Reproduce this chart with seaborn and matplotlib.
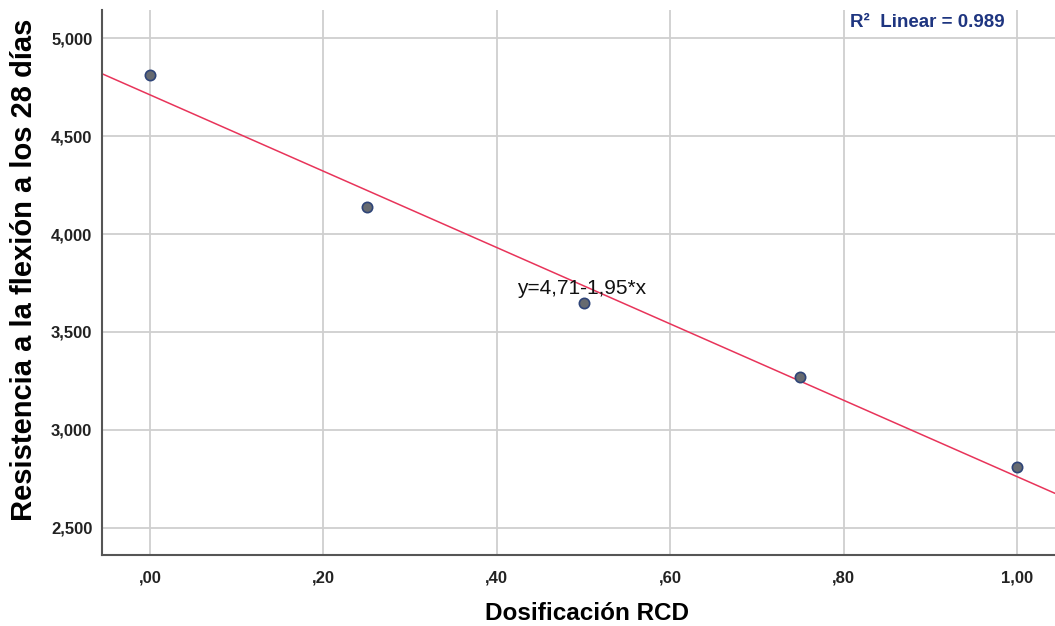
import numpy as np
import pandas as pd
import seaborn as sns
import matplotlib
matplotlib.use("Agg")
import matplotlib.pyplot as plt
from matplotlib.ticker import FuncFormatter, FixedLocator

# Flexural strength at 28 days vs. RCD dosage
dosificacion = [0.00, 0.25, 0.50, 0.75, 1.00]
resistencia = [4.81, 4.14, 3.65, 3.27, 2.81]
x_ticks = [0.0, 0.2, 0.4, 0.6, 0.8, 1.0]
y_ticks = [2.5, 3.0, 3.5, 4.0, 4.5, 5.0]

df = pd.DataFrame({"Dosificación RCD": dosificacion,
                   "Resistencia a la flexión a los 28 días": resistencia})

sns.set_theme(style="white")
plt.rcParams["font.family"] = ["Liberation Sans", "DejaVu Sans"]

fig = plt.figure(figsize=(10.55, 6.26), dpi=100)
ax = fig.add_axes([0.0967, 0.1134, 0.9033, 0.8706])

xlim = (-0.0554, 1.0438)
ylim = (2.362, 5.143)
ax.set_xlim(*xlim)
ax.set_ylim(*ylim)

grid_c = "#cfcfcf"
for xv in x_ticks:
    ax.axvline(xv, color=grid_c, lw=1.3, zorder=0)
for yv in y_ticks:
    ax.axhline(yv, color=grid_c, lw=1.3, zorder=0)

sns.regplot(data=df, x="Dosificación RCD", y="Resistencia a la flexión a los 28 días",
            ax=ax, ci=None, truncate=False,
            scatter_kws=dict(s=55, color="#666a70", edgecolor="#2e4478",
                             linewidths=1.2, alpha=1, zorder=3),
            line_kws=dict(color="#e8345a", lw=1.1, zorder=2))
ax.set_xlim(*xlim)
ax.set_ylim(*ylim)

slope, intercept = np.polyfit(dosificacion, resistencia, 1)
pred = np.polyval([slope, intercept], dosificacion)
ss_res = np.sum((np.array(resistencia) - pred) ** 2)
ss_tot = np.sum((np.array(resistencia) - np.mean(resistencia)) ** 2)
r2 = 1 - ss_res / ss_tot

eq = f"y={intercept:.2f}-{abs(slope):.2f}*x".replace(".", ",")
ax.text(0.498, 3.724, eq, fontsize=15, color="#111111", ha="center", va="center", zorder=4)
ax.text(0.896, 5.08, f"R²  Linear = {r2:.3f}",
        fontsize=13.5, fontweight="bold", color="#1e3580", ha="center", va="center")

ax.xaxis.set_major_locator(FixedLocator(x_ticks))
ax.yaxis.set_major_locator(FixedLocator(y_ticks))

def fmt_x(v, pos):
    s = f"{v:.2f}".replace(".", ",")
    return s[1:] if s.startswith("0") else s

def fmt_y(v, pos):
    return f"{v:.3f}".replace(".", ",")

ax.xaxis.set_major_formatter(FuncFormatter(fmt_x))
ax.yaxis.set_major_formatter(FuncFormatter(fmt_y))
ax.tick_params(axis="x", length=0, labelsize=12, labelcolor="#222222", pad=11)
ax.tick_params(axis="y", length=0, labelsize=12, labelcolor="#222222", pad=7)
for lab in ax.get_xticklabels() + ax.get_yticklabels():
    lab.set_fontweight("bold")

ax.set_xlabel("Dosificación RCD", fontsize=17.5, fontweight="bold", color="#000000")
ax.set_ylabel("Resistencia a la flexión a los 28 días", fontsize=21, fontweight="bold",
              color="#000000")
ax.xaxis.set_label_coords(0.509, -0.086)
ax.yaxis.set_label_coords(-0.067, 0.523)

for side in ["top", "right"]:
    ax.spines[side].set_visible(False)
for side in ["left", "bottom"]:
    ax.spines[side].set_color("#555555")
    ax.spines[side].set_linewidth(1.5)

fig.savefig("out.png", dpi=100)
